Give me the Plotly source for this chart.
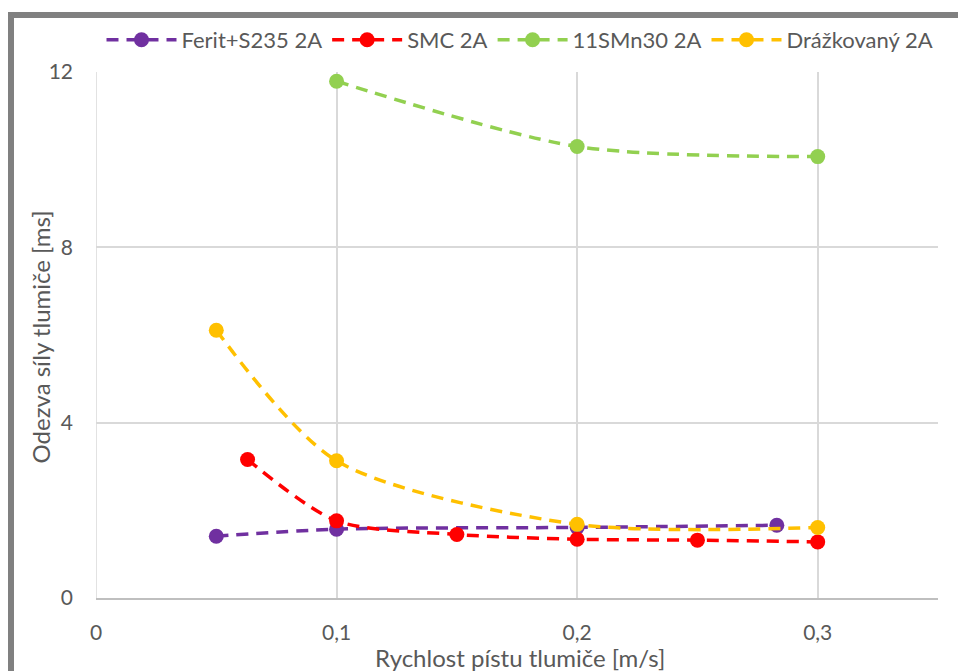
import plotly.graph_objects as go

# Data
ferit_x = [0.05, 0.1, 0.2, 0.283]
ferit_y = [1.41, 1.57, 1.61, 1.66]

smc_x = [0.063, 0.1, 0.15, 0.2, 0.25, 0.3]
smc_y = [3.16, 1.76, 1.45, 1.34, 1.32, 1.28]

smn_x = [0.1, 0.2, 0.3]
smn_y = [11.79, 10.3, 10.07]

drazk_x = [0.05, 0.1, 0.2, 0.3]
drazk_y = [6.11, 3.13, 1.68, 1.61]

series_names = ["Ferit+S235 2A", "SMC 2A", "11SMn30 2A", "Drážkovaný 2A"]
series_colors = ["#7030A0", "#FF0000", "#92D050", "#FFC000"]

x_ticks = [0, 0.1, 0.2, 0.3]
x_tick_labels = ["0", "0,1", "0,2", "0,3"]
y_ticks = [0, 4, 8, 12]
y_tick_labels = ["0", "4", "8", "12"]

FONT = "Lato"
TXT = "#595959"

# figure geometry (page has an 8px body margin)
W, H = 958, 663
L, R, T, B = 88, 28, 63, 73
PW, PH = W - L - R, H - T - B

fig = go.Figure()
for name, color, xs, ys in zip(series_names, series_colors,
                               [ferit_x, smc_x, smn_x, drazk_x],
                               [ferit_y, smc_y, smn_y, drazk_y]):
    fig.add_trace(go.Scatter(
        x=xs, y=ys, name=name, mode="lines+markers",
        line=dict(color=color, width=3.5, dash="12px,8px", shape="spline", smoothing=0.8),
        marker=dict(color=color, size=15),
    ))

fig.update_layout(
    width=W, height=H,
    margin=dict(l=L, r=R, t=T, b=B),
    paper_bgcolor="white", plot_bgcolor="white",
    font=dict(family=FONT, color=TXT, size=21),
    showlegend=True,
    legend=dict(orientation="h", x=(520 - 8 - L) / PW, xanchor="center",
                y=1 + (T - 32) / PH, yanchor="middle",
                font=dict(family=FONT, size=22, color=TXT), itemwidth=70,
                bgcolor="rgba(0,0,0,0)"),
    xaxis=dict(range=[0, 0.35], tickvals=x_ticks, ticktext=x_tick_labels,
               showgrid=True, gridcolor="#D9D9D9", gridwidth=1.5,
               zeroline=False, showline=True, linecolor="#BFBFBF", linewidth=1.5,
               ticks="", ticklabelstandoff=15, tickfont=dict(size=21)),
    yaxis=dict(range=[0, 12], tickvals=y_ticks, ticktext=y_tick_labels,
               showgrid=True, gridcolor="#D9D9D9", gridwidth=1.5,
               zeroline=False, showline=False, ticks="", ticklabelstandoff=22,
               tickfont=dict(size=21)),
)

# Axis titles
fig.add_annotation(text="Rychlost pístu tlumiče [m/s]", xref="paper", yref="paper",
                   x=(520 - 8 - L) / PW, y=-(658 - 8 - (T + PH)) / PH,
                   xanchor="center", yanchor="middle", showarrow=False,
                   font=dict(family=FONT, size=24, color=TXT))
fig.add_annotation(text="Odezva síly tlumiče [ms]", xref="paper", yref="paper",
                   x=(40 - 8 - L) / PW, y=1 - (337 - 8 - T) / PH, textangle=-90,
                   xanchor="center", yanchor="middle", showarrow=False,
                   font=dict(family=FONT, size=24, color=TXT))

# Vertical line at x=0 (left edge gridline)
fig.add_shape(type="line", xref="x", yref="y", x0=0, x1=0, y0=0, y1=12,
              line=dict(color="#D9D9D9", width=1.5), layer="below")

# Outer gray frame (cropped at right and bottom)
fig.add_shape(type="rect", xref="paper", yref="paper",
              x0=(3 - L) / PW, x1=(W + 40 - L) / PW,
              y0=-(H + 40 - (T + PH)) / PH, y1=1 + (T - 6) / PH,
              line=dict(color="#808080", width=6), fillcolor="rgba(0,0,0,0)")

fig.write_html("out.html")
